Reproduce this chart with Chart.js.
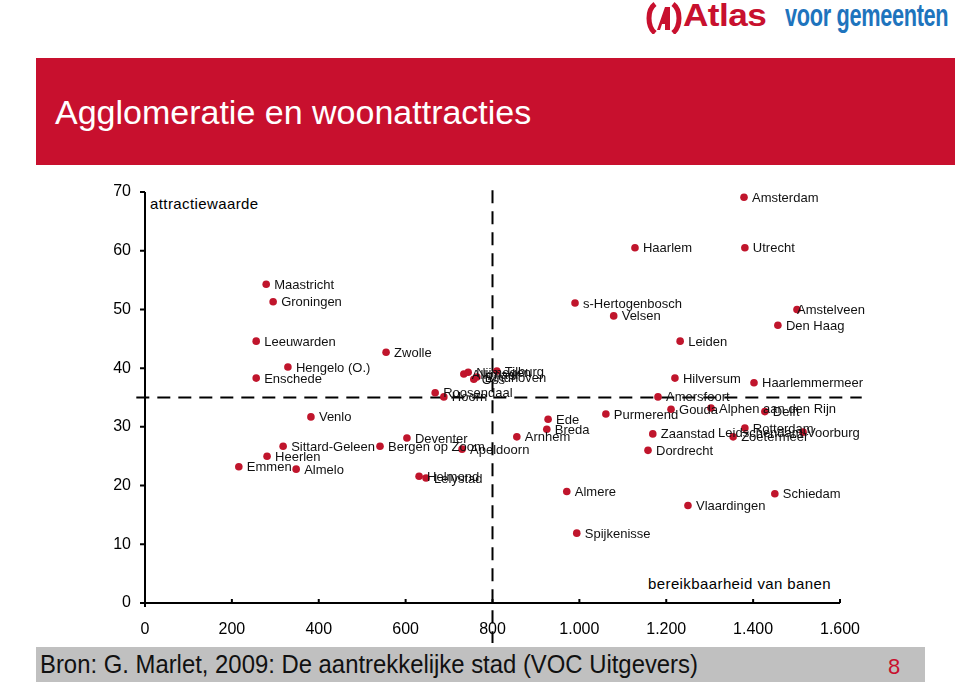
<!DOCTYPE html>
<html>
<head>
<meta charset="utf-8">
<script src="https://cdn.jsdelivr.net/npm/chart.js@4.4.0/dist/chart.umd.min.js"></script>
<style>
  body { margin:0; width:960px; height:682px; position:relative; overflow:hidden; background:#fff; font-family:"Liberation Sans", Arial, sans-serif; }
  #logo { position:absolute; left:646px; top:0px; height:36px; white-space:nowrap; }
  #logo svg { position:absolute; left:0; top:2px; }
  #logo .atlas { display:inline-block; position:absolute; left:37px; top:-3px; font-size:32px; font-weight:900; color:#c8102e; transform:scaleX(1.1); transform-origin:left; letter-spacing:-0.5px; }
  #logo .voor { display:inline-block; position:absolute; left:139px; top:-3px; font-size:32px; font-weight:900; color:#1e74bd; transform:scaleX(0.68); transform-origin:left; letter-spacing:-0.5px; }
  #banner { position:absolute; left:36px; top:58px; width:919px; height:107px; background:#c8102e; }
  #banner h1 { margin:0; position:absolute; left:19px; top:35px; font-size:34px; font-weight:normal; color:#fff; }
  #footer { position:absolute; left:36px; top:647px; width:889px; height:35px; background:#c0c0c0; }
  #footer .bron { display:inline-block; position:absolute; left:4px; top:2px; font-size:26px; color:#111; transform:scaleX(0.918); transform-origin:left; white-space:nowrap; }
  #footer .nr { position:absolute; left:852px; top:7px; font-size:22px; color:#c8102e; }
  .astitel { position:absolute; font-size:15px; color:#000; letter-spacing:0.4px; }
  canvas { position:absolute; left:0; top:0; }
</style>
</head>
<body>
<div id="logo">
  <svg width="36" height="32" viewBox="0 0 36 32">
    <path d="M9 2 C1 8 1 24 9 31" stroke="#c8102e" stroke-width="5" fill="none"/>
    <path d="M27 2 C35 8 35 24 27 31" stroke="#c8102e" stroke-width="5" fill="none"/>
    <path d="M11 28 L19 5 L24 5 L24 28 L19 28 L19 22 L16 22 L14 28 Z" fill="#c8102e"/>
  </svg>
  <span class="atlas">Atlas</span><span class="voor">voor gemeenten</span>
</div>
<div id="banner"><h1>Agglomeratie en woonattracties</h1></div>
<div class="astitel" style="left:150px; top:195px;">attractiewaarde</div>
<div class="astitel" style="left:648px; top:575px;">bereikbaarheid van banen</div>
<div id="footer"><span class="bron">Bron: G. Marlet, 2009: De aantrekkelijke stad (VOC Uitgevers)</span><span class="nr">8</span></div>
<canvas id="grafiek" width="960" height="682"></canvas>
<script>
// gemeenten met bereikbaarheid van banen (x) en attractiewaarde (y)
const steden = ['Amsterdam','Haarlem','Utrecht','Maastricht','Groningen','s-Hertogenbosch','Velsen','Amstelveen','Den Haag','Leiden',
  'Leeuwarden','Zwolle','Hengelo (O.)','Enschede','Roosendaal','Hoorn','Venlo','Deventer','Sittard-Geleen','Bergen op Zoom',
  'Heerlen','Emmen','Almelo','Helmond','Lelystad','Apeldoorn','Arnhem','Ede','Breda','Purmerend',
  'Almere','Spijkenisse','Hilversum','Haarlemmermeer','Amersfoort','Gouda','Alphen aan den Rijn','Delft','Zaanstad','Dordrecht',
  'Rotterdam','Zoetermeer','Leidschendam-Voorburg','Schiedam','Vlaardingen','Alkmaar','Nijmegen','Oss','Eindhoven','Tilburg'];
const bereikbaarheid = [1379,1128,1381,279,295,990,1079,1501,1457,1232,
  256,555,329,256,668,688,382,603,318,541,
  281,216,348,631,647,730,856,928,925,1061,
  971,994,1220,1402,1181,1211,1303,1427,1169,1158,
  1381,1354,1515,1450,1250,734,744,757,764,810];
const attractiewaarde = [69.1,60.5,60.5,54.3,51.3,51.1,48.9,50.0,47.3,44.6,
  44.6,42.7,40.2,38.3,35.8,35.1,31.7,28.1,26.7,26.7,
  25.0,23.2,22.8,21.6,21.3,26.2,28.3,31.3,29.6,32.2,
  19.0,11.9,38.3,37.5,35.1,33.0,33.2,32.6,28.8,26.0,
  29.8,28.3,29.1,18.6,16.6,39.0,39.3,38.1,38.5,39.5];
const xTicks = [0,200,400,600,800,1000,1200,1400,1600];
const yTicks = [0,10,20,30,40,50,60,70];
const grensX = 800;
const grensY = 35;

const punten = bereikbaarheid.map((x, i) => ({x: x, y: attractiewaarde[i]}));

function duizendtal(v){
  if (v < 1000) return String(v);
  const s = String(v);
  return s.slice(0, s.length-3) + '.' + s.slice(s.length-3);
}

const opmaak = {
  id: 'opmaak',
  beforeDatasetsDraw(chart){
    const ctx = chart.ctx, xs = chart.scales.x, ys = chart.scales.y;
    ctx.save();
    ctx.strokeStyle = '#000';
    ctx.lineWidth = 2;
    ctx.setLineDash([13, 8]);
    // horizontale grens
    const py = ys.getPixelForValue(grensY);
    ctx.beginPath();
    ctx.moveTo(xs.getPixelForValue(-20), py);
    ctx.lineTo(xs.getPixelForValue(1650), py);
    ctx.stroke();
    // verticale grens
    const px = xs.getPixelForValue(grensX);
    ctx.beginPath();
    ctx.moveTo(px, ys.getPixelForValue(70.3));
    ctx.lineTo(px, ys.getPixelForValue(-6.8));
    ctx.stroke();
    ctx.setLineDash([]);
    // assen
    const a = chart.chartArea;
    ctx.lineWidth = 2;
    ctx.beginPath();
    ctx.moveTo(a.left, a.top);
    ctx.lineTo(a.left, a.bottom + 4);
    ctx.moveTo(a.left - 5, a.bottom);
    ctx.lineTo(a.right, a.bottom);
    yTicks.forEach(t => {
      const y = ys.getPixelForValue(t);
      ctx.moveTo(a.left - 5, y);
      ctx.lineTo(a.left, y);
    });
    xTicks.forEach(t => {
      const x = xs.getPixelForValue(t);
      ctx.moveTo(x, a.bottom);
      ctx.lineTo(x, a.bottom - 4);
    });
    ctx.stroke();
    ctx.restore();
  },
  afterDatasetsDraw(chart){
    const ctx = chart.ctx;
    const meta = chart.getDatasetMeta(0);
    const verschuif = {'Leidschendam-Voorburg': -93, 'Amstelveen': -8};
    ctx.save();
    ctx.font = '13px "Liberation Sans", Arial, sans-serif';
    ctx.fillStyle = '#111';
    ctx.textBaseline = 'middle';
    ctx.textAlign = 'left';
    meta.data.forEach((el, i) => {
      const naam = steden[i];
      ctx.fillText(naam, el.x + 8 + (verschuif[naam] || 0), el.y + 1);
    });
    ctx.restore();
  }
};

new Chart(document.getElementById('grafiek'), {
  type: 'scatter',
  data: {
    datasets: [{
      data: punten,
      backgroundColor: '#c0152c',
      borderWidth: 0,
      pointRadius: 3.8,
      pointHoverRadius: 3.8
    }]
  },
  options: {
    responsive: false,
    animation: false,
    devicePixelRatio: 1,
    layout: { padding: { left: 105, right: 120, top: 192, bottom: 39 } },
    plugins: { legend: { display: false }, tooltip: { enabled: false } },
    scales: {
      x: {
        type: 'linear', min: 0, max: 1600,
        grid: { display: false, drawTicks: false },
        border: { display: false },
        afterFit: s => { s.height = 40; },
        afterBuildTicks: s => { s.ticks = xTicks.map(v => ({value: v})); },
        ticks: { padding: 17, color: '#000', font: { size: 16, family: '"Liberation Sans", Arial' }, maxRotation: 0, callback: v => duizendtal(v) }
      },
      y: {
        type: 'linear', min: 0, max: 70,
        grid: { display: false, drawTicks: false },
        border: { display: false },
        afterFit: s => { s.width = 40; },
        afterBuildTicks: s => { s.ticks = yTicks.map(v => ({value: v})); },
        ticks: { padding: 14, color: '#000', font: { size: 16, family: '"Liberation Sans", Arial' } }
      }
    }
  },
  plugins: [opmaak]
});
</script>
</body>
</html>
